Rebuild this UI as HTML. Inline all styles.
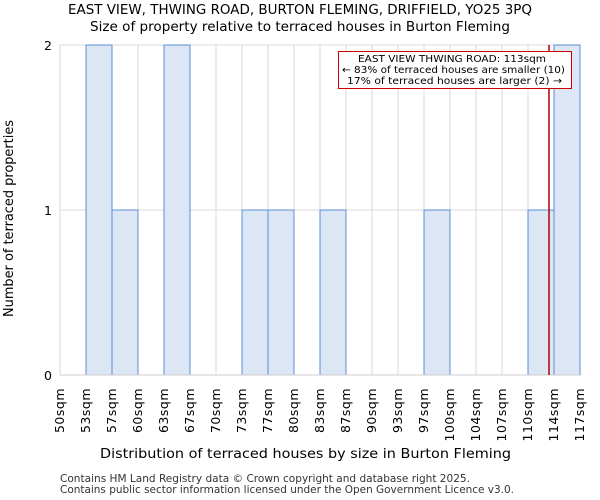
<!DOCTYPE html>
<html><head><meta charset="utf-8"><style>body{margin:0;background:#fff}svg{display:block;font-family:"DejaVu Sans","Liberation Sans",sans-serif}</style></head>
<body>
<svg id="chart" width="600" height="500">
<text x="68" y="14" textLength="464" lengthAdjust="spacingAndGlyphs" font-size="13">EAST VIEW, THWING ROAD, BURTON FLEMING, DRIFFIELD, YO25 3PQ</text>
<text x="90" y="31" textLength="420" lengthAdjust="spacingAndGlyphs" font-size="13">Size of property relative to terraced houses in Burton Fleming</text>
<g id="grid"></g>
<g id="bars"></g>
<g id="axes"></g>
<text x="100" y="458" textLength="411" lengthAdjust="spacingAndGlyphs" font-size="13">Distribution of terraced houses by size in Burton Fleming</text>
<text transform="translate(13,317) rotate(-90)" textLength="197" lengthAdjust="spacingAndGlyphs" font-size="13">Number of terraced properties</text>
<text x="60" y="482" textLength="410" lengthAdjust="spacingAndGlyphs" font-size="10.5" fill="#333">Contains HM Land Registry data © Crown copyright and database right 2025.</text>
<text x="60" y="493" textLength="454" lengthAdjust="spacingAndGlyphs" font-size="10.5" fill="#333">Contains public sector information licensed under the Open Government Licence v3.0.</text>
<line x1="549" y1="45" x2="549" y2="375" stroke="#b00000" stroke-width="1.5"/>
<rect x="338.5" y="51.5" width="233" height="37" fill="#fff" stroke="#cc0000"/>
<text x="358" y="62" textLength="188" lengthAdjust="spacingAndGlyphs" font-size="10">EAST VIEW THWING ROAD: 113sqm</text>
<text x="342" y="73" textLength="223" lengthAdjust="spacingAndGlyphs" font-size="10">← 83% of terraced houses are smaller (10)</text>
<text x="347" y="84" textLength="215" lengthAdjust="spacingAndGlyphs" font-size="10">17% of terraced houses are larger (2) →</text>
</svg>
<script>
const binLabels=["50sqm","53sqm","57sqm","60sqm","63sqm","67sqm","70sqm","73sqm","77sqm","80sqm","83sqm","87sqm","90sqm","93sqm","97sqm","100sqm","104sqm","107sqm","110sqm","114sqm","117sqm"];
const counts=[0,2,1,0,2,0,0,1,1,0,1,0,0,0,1,0,0,0,1,2];
const yTicks=[0,1,2];
const NS="http://www.w3.org/2000/svg";
const L=60,R=580,T=45,B=375,yMax=2;
const nb=counts.length,bw=(R-L)/nb;
const xs=i=>L+i*bw, ys=v=>B-(B-T)*v/yMax;
function mk(tag,at,parent){const e=document.createElementNS(NS,tag);for(const k in at)e.setAttribute(k,at[k]);document.getElementById(parent).appendChild(e);return e;}
for(let i=0;i<=nb;i++){const l=mk('line',{x1:xs(i),x2:xs(i),y1:T,y2:B,stroke:'#d8d8d8'},'grid');

}
yTicks.forEach(v=>{const l=mk('line',{x1:L,x2:R,y1:ys(v),y2:ys(v),stroke:'#d8d8d8'},'grid');


const t=mk('text',{x:L-8,y:ys(v)+5,'text-anchor':'end','font-size':12.5},'axes');t.textContent=v;

});
counts.forEach((c,i)=>{if(!c)return;const r=mk('rect',{x:xs(i),y:ys(c),width:bw,height:B-ys(c),fill:'#dce6f4',stroke:'#5a8fd6','stroke-width':1},'bars');

});
binLabels.forEach((s,i)=>{const t=mk('text',{transform:`translate(${xs(i)+4},388) rotate(-90)`,'text-anchor':'end','font-size':12.5,'letter-spacing':'0.5'},'axes');t.textContent=s;

});
const ax=mk('line',{x1:L,x2:R,y1:B,y2:B,stroke:'#ccc'},'axes');


</script>
</body></html>
